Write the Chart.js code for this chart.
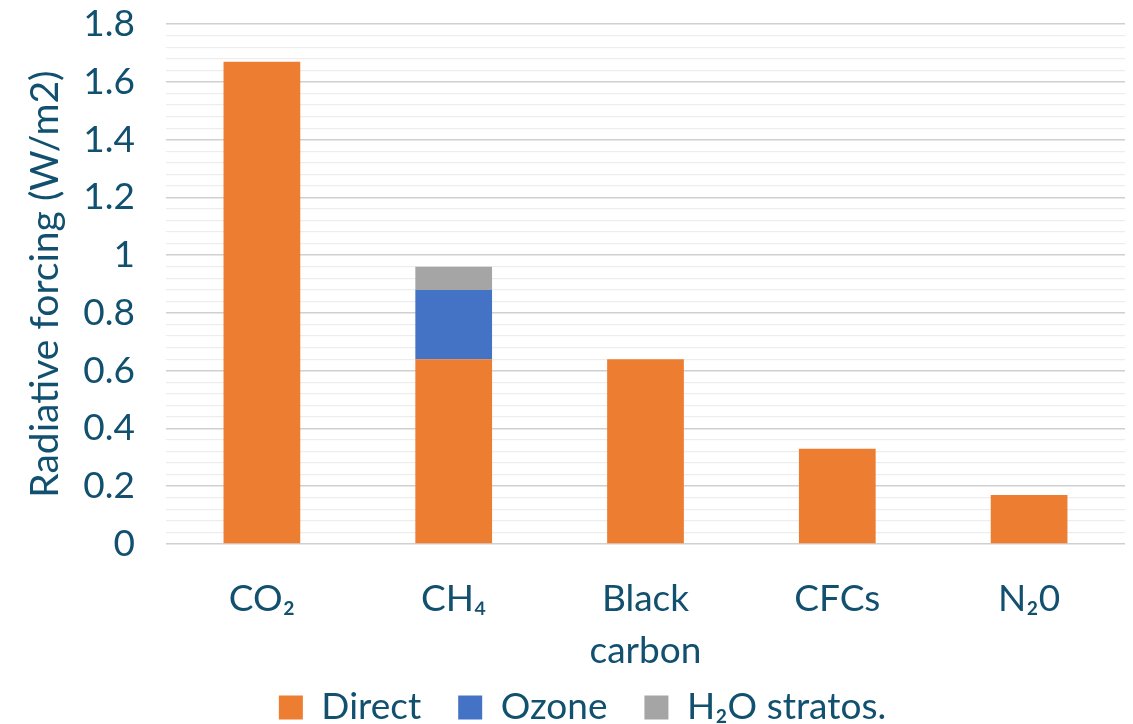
<!DOCTYPE html>
<html>
<head>
<meta charset="utf-8">
<script src="https://cdn.jsdelivr.net/npm/chart.js@4.4.1/dist/chart.umd.min.js"></script>
<style>
  html, body { margin: 0; padding: 0; background: #ffffff; }
  #wrap { width: 1133px; height: 724px; position: relative; }
</style>
</head>
<body>
<div id="wrap"><canvas id="chart"></canvas></div>
<script>
// Radiative forcing by emitted compound (W/m2)
const categories = ['CO\u2082', 'CH\u2084', ['Black', 'carbon'], 'CFCs', 'N\u20820'];
const directValues = [1.67, 0.64, 0.64, 0.33, 0.17];
const ozoneValues = [null, 0.24, null, null, null];
const h2oStratValues = [null, 0.08, null, null, null];
const seriesNames = ['Direct', 'Ozone', 'H\u2082O stratos.'];
const yTickLabels = ['0', '0.2', '0.4', '0.6', '0.8', '1', '1.2', '1.4', '1.6', '1.8'];

const TEXT = '#11506f';
const FONT = 'Lato, "Open Sans", sans-serif';
const SIZE = 37;

// major lines every 0.2, minor lines every 0.04
const isMajor = v => Math.abs(v / 0.2 - Math.round(v / 0.2)) < 1e-6;

new Chart(document.getElementById('chart'), {
  type: 'bar',
  data: {
    labels: categories,
    datasets: [
      { label: seriesNames[0], data: directValues, backgroundColor: '#ED7D31' },
      { label: seriesNames[1], data: ozoneValues, backgroundColor: '#4472C4' },
      { label: seriesNames[2], data: h2oStratValues, backgroundColor: '#A5A5A5' }
    ]
  },
  options: {
    responsive: true,
    maintainAspectRatio: false,
    animation: false,
    layout: { padding: { top: 0, right: 8, left: 40, bottom: -12 } },
    datasets: { bar: { barPercentage: 0.4, categoryPercentage: 1.0 } },
    plugins: {
      tooltip: { enabled: false },
      legend: {
        position: 'bottom',
        labels: {
          color: TEXT,
          font: { family: FONT, size: SIZE },
          boxWidth: 24,
          boxHeight: 24,
          padding: 37
        }
      }
    },
    scales: {
      x: {
        stacked: true,
        grid: { display: false, drawTicks: false },
        border: { display: false },
        ticks: {
          color: TEXT,
          font: { family: FONT, size: SIZE, lineHeight: 1.38 },
          padding: 30,
          maxRotation: 0,
          autoSkip: false
        },
        afterFit: s => {
          s.height = 108;
          // let the two-line label run below the axis box
          s._computeLabelArea = () => undefined;
        }
      },
      y: {
        stacked: true,
        min: 0,
        max: 1.8,
        grid: {
          drawTicks: true,
          tickLength: 29,
          tickColor: 'rgba(0,0,0,0)',
          color: c => isMajor(c.tick.value) ? '#d0d0d0' : '#ededed',
          lineWidth: c => isMajor(c.tick.value) ? 1.6 : 1.3
        },
        border: { display: false },
        ticks: {
          stepSize: 0.04,
          autoSkip: false,
          color: TEXT,
          font: { family: FONT, size: SIZE },
          padding: 2,
          callback: v => isMajor(v) ? yTickLabels[Math.round(v / 0.2)] : ''
        },
        title: {
          display: true,
          text: 'Radiative forcing (W/m2)',
          color: TEXT,
          font: { family: FONT, size: 39 },
          padding: { top: -18, bottom: 0 }
        },
        afterFit: s => { s.width = 126; }
      }
    }
  }
});
</script>
</body>
</html>
